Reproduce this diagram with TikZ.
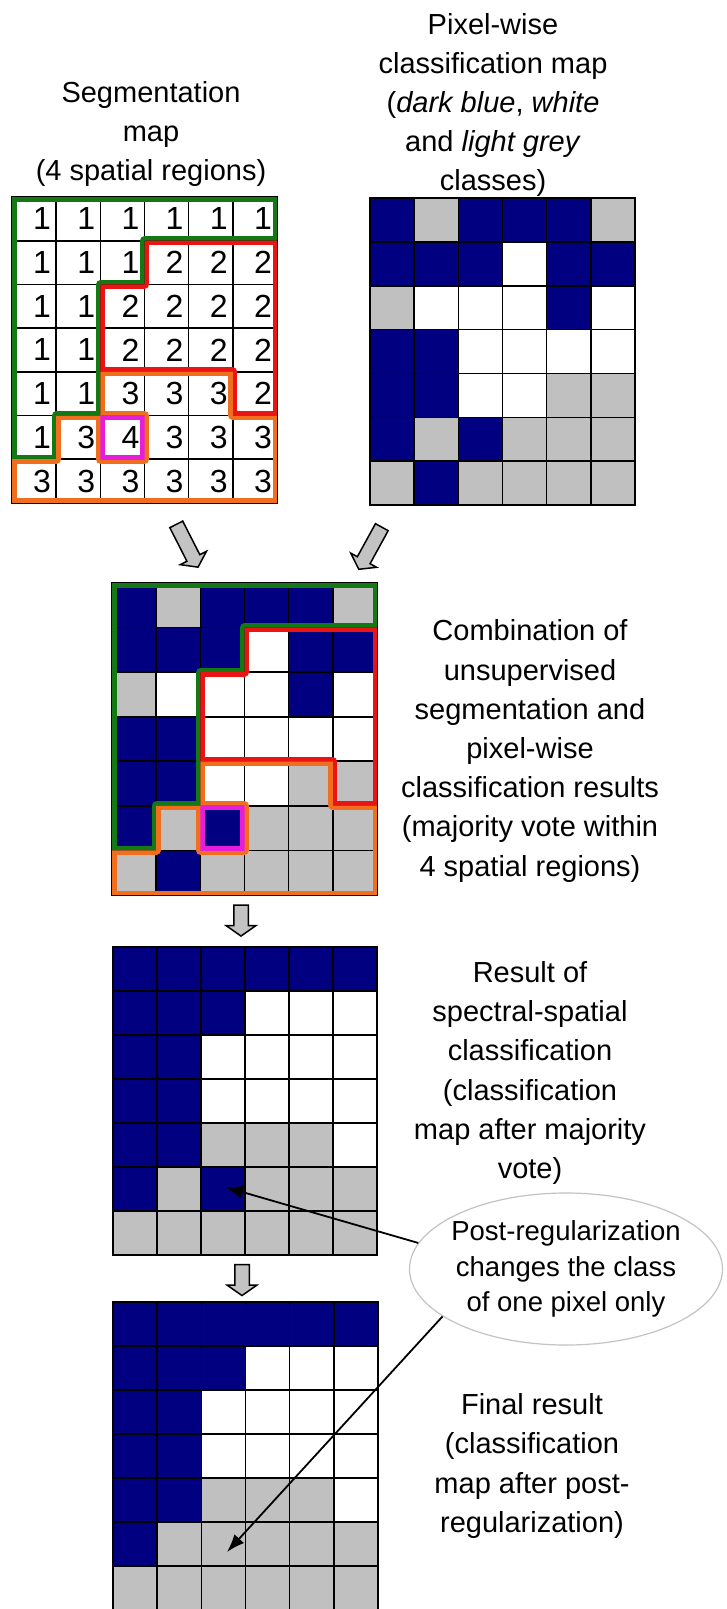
\documentclass[tikz,border=0pt]{standalone}
\usepackage{fontspec}
\setmainfont{Liberation Sans}
\usetikzlibrary{shapes.geometric,shapes.arrows,arrows.meta}
\definecolor{cellB}{RGB}{0,0,128}
\definecolor{cellG}{RGB}{192,192,192}
\definecolor{cellW}{RGB}{255,255,255}
\definecolor{rgreenc}{RGB}{20,120,20}
\definecolor{rredc}{RGB}{235,20,20}
\definecolor{rorangec}{RGB}{240,110,30}
\definecolor{rmagc}{RGB}{230,30,220}
\definecolor{arrowgrey}{RGB}{195,195,195}
\definecolor{ellgrey}{RGB}{195,195,195}

\newcommand\cellrows[1]{%
  \foreach \r/\row in {#1}{%
    \foreach \cc [count=\i from 0] in \row {\fill[cell\cc] (\i,\r) rectangle ++(1,1);}}}

\newcommand\gridlines{%
  \foreach \k in {1,...,5}{\draw[gline] (\k,0) -- (\k,7);}
  \foreach \k in {1,...,6}{\draw[gline] (0,\k) -- (6,\k);}
  \draw[gline] (0,0) rectangle (6,7);}

\newcommand\regionlines{%
  \begin{scope}
    \clip (0,0) -- (6,0) -- (6,1) -- (3,1) -- (3,2) -- (2,2) -- (2,5) -- (1,5) -- (1,6) -- (0,6) -- cycle;
    \draw[regline, rgreenc] (0,0) -- (6,0) -- (6,1) -- (3,1) -- (3,2) -- (2,2) -- (2,5) -- (1,5) -- (1,6) -- (0,6) -- cycle;
  \end{scope}
  \begin{scope}
    \clip (3,1) -- (6,1) -- (6,5) -- (5,5) -- (5,4) -- (2,4) -- (2,2) -- (3,2) -- cycle;
    \draw[regline, rredc] (3,1) -- (6,1) -- (6,5) -- (5,5) -- (5,4) -- (2,4) -- (2,2) -- (3,2) -- cycle;
  \end{scope}
  \begin{scope}
    \clip (2,4) -- (5,4) -- (5,5) -- (6,5) -- (6,7) -- (0,7) -- (0,6) -- (1,6) -- (1,5) -- (2,5) -- cycle;
    \draw[regline, rorangec] (2,4) -- (5,4) -- (5,5) -- (6,5) -- (6,7) -- (0,7) -- (0,6) -- (1,6) -- (1,5) -- (2,5) -- cycle
      (2,5) rectangle (3,6);
  \end{scope}
  \begin{scope}
    \clip (2,5) rectangle (3,6);
    \draw[regline, rmagc] (2,5) rectangle (3,6);
  \end{scope}}

\tikzset{
  gline/.style={draw=black, line width=1.6pt},
  regline/.style={line width=9pt, line join=round},
  txt/.style={align=center, inner sep=0pt, font=\fontsize{29}{39.2}\selectfont},
  digit/.style={anchor=east, xshift=-5pt, inner sep=0pt, font=\fontsize{32}{32}\selectfont},
  barrow/.style={single arrow, draw=black, fill=arrowgrey, line width=1.5pt,
    inner xsep=0pt, inner ysep=6.5pt, single arrow head extend=7.5pt,
    single arrow tip angle=110, minimum height=#1},
  callout/.style={draw=black, line width=1.8pt, -{Latex[length=18pt,width=13pt]}},
}

\begin{document}
\begin{tikzpicture}[x=1pt, y=-1pt]
\useasboundingbox (0,0) rectangle (726,1609);
\fill[white] (0,0) rectangle (726,1609);

% ---------- titles ----------
\node[txt] (t1) at (151,134) {Segmentation\\map\\(4 spatial regions)};
\node[txt] (t2) at (493,105) {Pixel-wise\\classification map\\(\textit{dark blue}, \textit{white}\\and \textit{light grey}\\classes)};

% ---------- grid 1: segmentation map ----------
\begin{scope}[shift={(12,197)}, x=44.17pt, y=-43.7pt]
  \fill[white] (0,0) rectangle (6,7);
  \gridlines
  \foreach \r/\row in {0/{1,1,1,1,1,1},1/{1,1,1,2,2,2},2/{1,1,2,2,2,2},3/{1,1,2,2,2,2},4/{1,1,3,3,3,2},5/{1,3,4,3,3,3},6/{3,3,3,3,3,3}}{%
    \foreach \d [count=\i from 0] in \row {\node[digit] (d\r\i) at (\i+1,\r+0.5) {\d};}}
  \regionlines
\end{scope}

% ---------- grid 2: pixel-wise classification ----------
\begin{scope}[shift={(370,198)}, x=44.17pt, y=-43.86pt]
  \cellrows{0/{B,G,B,B,B,G},1/{B,B,B,W,B,B},2/{G,W,W,W,B,W},3/{B,B,W,W,W,W},4/{B,B,W,W,G,G},5/{B,G,B,G,G,G},6/{G,B,G,G,G,G}}
  \gridlines
\end{scope}

% ---------- block arrows ----------
\node[barrow=48pt, rotate=-63] (a1) at (186,543.5) {};
\node[barrow=48pt, rotate=-118.7] (a2) at (371.5,546) {};

% ---------- grid 3: combination ----------
\begin{scope}[shift={(112,583)}, x=44.17pt, y=-44.57pt]
  \cellrows{0/{B,G,B,B,B,G},1/{B,B,B,W,B,B},2/{G,W,W,W,B,W},3/{B,B,W,W,W,W},4/{B,B,W,W,G,G},5/{B,G,B,G,G,G},6/{G,B,G,G,G,G}}
  \gridlines
  \regionlines
\end{scope}
\node[txt] (t3) at (530,751) {Combination of\\unsupervised\\segmentation and\\pixel-wise\\classification results\\(majority vote within\\4 spatial regions)};

\node[barrow=31pt, rotate=-90] (a3) at (241,918) {};

% ---------- grid 4: result of spectral-spatial classification ----------
\begin{scope}[shift={(113,947)}, x=44pt, y=-44pt]
  \cellrows{0/{B,B,B,B,B,B},1/{B,B,B,W,W,W},2/{B,B,W,W,W,W},3/{B,B,W,W,W,W},4/{B,B,G,G,G,W},5/{B,G,B,G,G,G},6/{G,G,G,G,G,G}}
  \gridlines
\end{scope}
\node[txt] (t4) at (530,1073) {Result of\\spectral-spatial\\classification\\(classification\\map after majority\\vote)};

\node[barrow=31pt, rotate=-90] (a4) at (242,1277.5) {};

% ---------- grid 5: final result ----------
\begin{scope}[shift={(113,1302)}, x=44.17pt, y=-44pt]
  \cellrows{0/{B,B,B,B,B,B},1/{B,B,B,W,W,W},2/{B,B,W,W,W,W},3/{B,B,W,W,W,W},4/{B,B,G,G,G,W},5/{B,G,G,G,G,G},6/{G,G,G,G,G,G}}
  \gridlines
\end{scope}
\node[txt] (t5) at (532,1466) {Final result\\(classification\\map after post-\\regularization)};

% ---------- callout ----------
\node[ellipse, draw=ellgrey, line width=1.2pt, align=center, inner xsep=-12pt, inner ysep=0pt,
      minimum width=313pt, minimum height=152pt, font=\fontsize{27.5}{35.5}\selectfont] (note) at (566,1269)
  {Post-regularization\\changes the class\\of one pixel only};
\coordinate (tip1) at (225,1187);
\coordinate (tip2) at (227,1552);
\draw[callout] (note.170) -- (tip1);
\draw[callout] (note.201) -- (tip2);
\end{tikzpicture}
\end{document}
